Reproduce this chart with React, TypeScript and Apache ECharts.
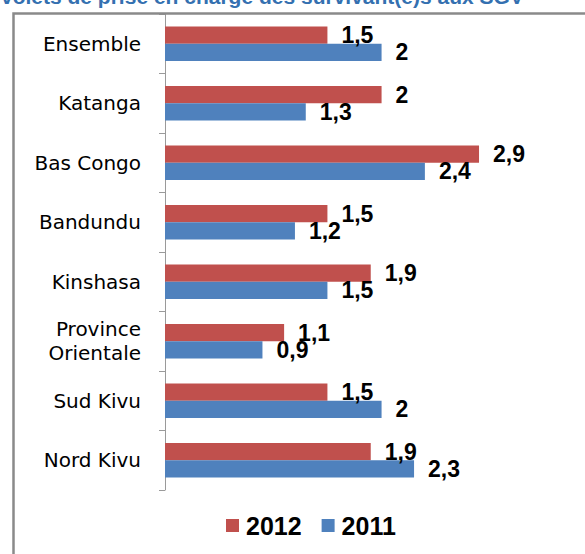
import React, { useEffect, useRef } from "react";
import * as echarts from "echarts";

const categories = [
  "Ensemble",
  "Katanga",
  "Bas Congo",
  "Bandundu",
  "Kinshasa",
  "Province\nOrientale",
  "Sud Kivu",
  "Nord Kivu",
];
const values2012 = [1.5, 2, 2.9, 1.5, 1.9, 1.1, 1.5, 1.9];
const values2011 = [2, 1.3, 2.4, 1.2, 1.5, 0.9, 2, 2.3];
const seriesNames = ["2012", "2011"];
const titleText = "volets de prise en charge des survivant(e)s aux SGV";

export default function App() {
  const ref = useRef<HTMLDivElement>(null);
  useEffect(() => {
    if (!ref.current) return;
    const chart = echarts.init(ref.current, undefined, { renderer: "svg" });
    const labelFmt = (p: any) => String(p.value).replace(".", ",");
    const label = {
      show: true,
      position: "right",
      distance: 14,
      formatter: labelFmt,
      fontFamily: "Liberation Sans",
      fontWeight: "bold",
      fontSize: 23,
      color: "#000",
    };
    chart.setOption({
      animation: false,
      backgroundColor: "#fff",
      graphic: [
        {
          type: "text",
          left: 1,
          top: -14,
          style: {
            text: titleText,
            font: "bold 21px 'Liberation Sans'",
            fill: "#3470b0",
          },
        },
        {
          type: "rect",
          shape: { x: 13.5, y: 13.5, width: 620, height: 620 },
          style: { fill: "none", stroke: "#8a8a8a", lineWidth: 2.5 },
          z: 10,
        },
      ],
      legend: {
        data: seriesNames,
        left: 221,
        top: 508,
        itemWidth: 13,
        itemHeight: 13,
        itemGap: 20,
        icon: "rect",
        textStyle: {
          fontFamily: "Liberation Sans",
          fontWeight: "bold",
          fontSize: 25,
          color: "#000",
          padding: [0, 0, 0, 2],
        },
      },
      grid: { left: 165, right: 41, top: 14, bottom: 64, containLabel: false },
      xAxis: {
        type: "value",
        min: 0,
        max: 3.5,
        show: false,
      },
      yAxis: {
        type: "category",
        inverse: true,
        data: categories,
        axisLine: { show: true, lineStyle: { color: "#9a9a9a", width: 1 } },
        axisTick: { show: true, length: 6, lineStyle: { color: "#9a9a9a" } },
        axisLabel: {
          margin: 24,
          fontFamily: "DejaVu Sans",
          fontSize: 20,
          color: "#000",
          lineHeight: 24,
          align: "right",
        },
        splitLine: { show: false },
      },
      series: [
        {
          name: seriesNames[0],
          type: "bar",
          data: values2012,
          barGap: "0%",
          barCategoryGap: "42%",
          itemStyle: { color: "#C0504D" },
          label,
        },
        {
          name: seriesNames[1],
          type: "bar",
          data: values2011,
          barGap: "0%",
          barCategoryGap: "42%",
          itemStyle: { color: "#4F81BD" },
          label,
        },
      ],
    });
    return () => chart.dispose();
  }, []);
  return (
    <div
      ref={ref}
      style={{ position: "fixed", left: 0, top: 0, width: 585, height: 554 }}
    />
  );
}
